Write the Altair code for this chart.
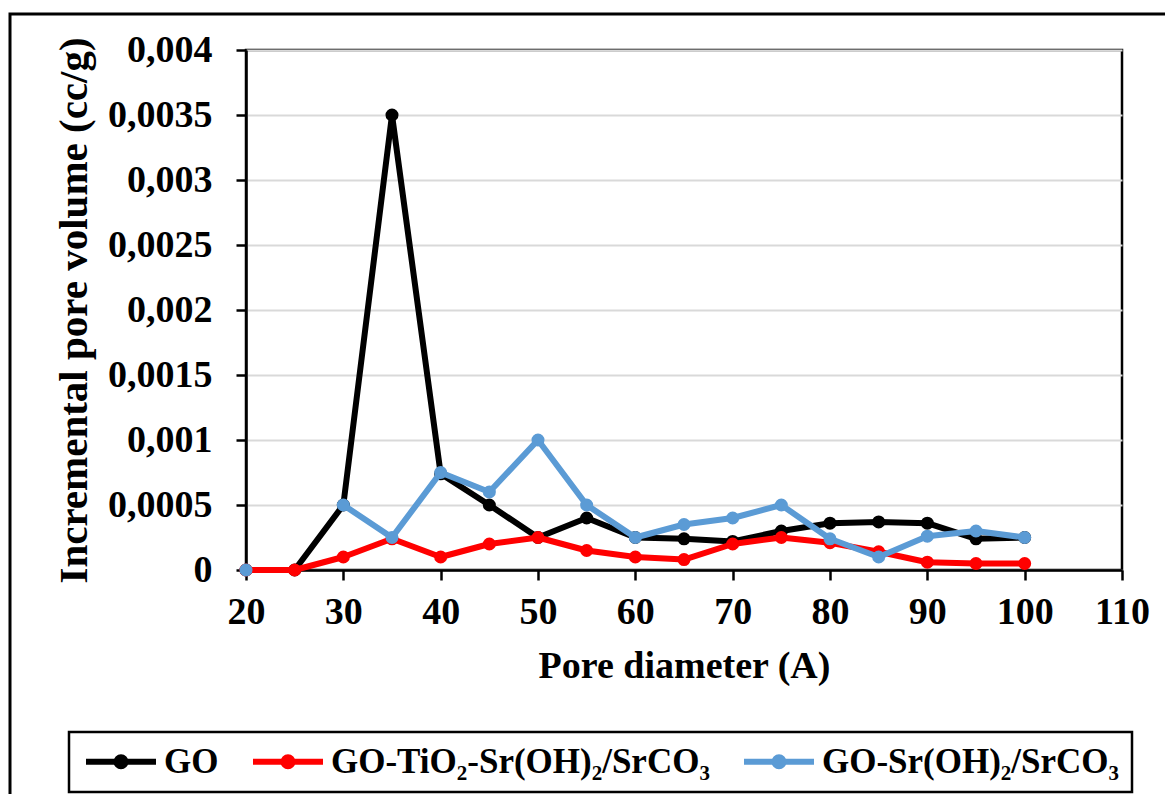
import altair as alt
import pandas as pd

pore_diameter = [20, 25, 30, 35, 40, 45, 50, 55, 60, 65, 70, 75, 80, 85, 90, 95, 100]
go = [0, 0, 0.0005, 0.0035, 0.00074, 0.0005, 0.00025, 0.0004, 0.00025, 0.00024,
      0.00022, 0.0003, 0.00036, 0.00037, 0.00036, 0.00024, 0.00025]
go_tio2 = [0, 0, 0.0001, 0.00024, 0.0001, 0.0002, 0.00025, 0.00015, 0.0001, 0.00008,
           0.0002, 0.00025, 0.00021, 0.00014, 0.00006, 0.00005, 0.00005]
go_sr = [0, None, 0.0005, 0.00025, 0.00075, 0.0006, 0.001, 0.0005, 0.00025, 0.00035,
         0.0004, 0.0005, 0.00024, 0.0001, 0.00026, 0.0003, 0.00025]

series_names = ["GO", "GO-TiO\u2082-Sr(OH)\u2082/SrCO\u2083", "GO-Sr(OH)\u2082/SrCO\u2083"]
series_colors = ["#000000", "#FF0000", "#5B9BD5"]
x_ticks = [20, 30, 40, 50, 60, 70, 80, 90, 100, 110]
y_ticks = [0, 0.0005, 0.001, 0.0015, 0.002, 0.0025, 0.003, 0.0035, 0.004]

rows = []
for name, vals in zip(series_names, [go, go_tio2, go_sr]):
    for xv, yv in zip(pore_diameter, vals):
        rows.append({"series": name, "x": xv, "y": yv})
df = pd.DataFrame(rows)

FONT = "Liberation Serif"

legend = alt.Legend(
    title=None,
    orient="none",
    legendX=-177,
    legendY=682,
    direction="horizontal",
    symbolType="M-1,0 L4.6,0 M1.44,0 A0.36,0.36 0 1,1 2.16,0 A0.36,0.36 0 1,1 1.44,0",
    symbolSize=625,
    symbolStrokeWidth=6,
    labelFont=FONT,
    labelFontWeight="bold",
    labelFontSize=35,
    labelColor="black",
    labelLimit=0,
    labelOffset=48,
    columnPadding=22,
    padding=12,
    strokeColor="black",
)

color = alt.Color(
    "series:N",
    scale=alt.Scale(domain=series_names, range=series_colors),
    legend=legend,
)

x_enc = alt.X(
    "x:Q",
    scale=alt.Scale(domain=[20, 110], nice=False, zero=False),
    axis=alt.Axis(
        title="Pore diameter (A)",
        values=x_ticks,
        grid=False,
        domainColor="black",
        domainWidth=2.5,
        tickColor="black",
        tickWidth=2.5,
        tickSize=10,
        labelFont=FONT,
        labelFontWeight="bold",
        labelFontSize=38,
        labelColor="black",
        labelPadding=13,
        labelFlush=False,
        titleFont=FONT,
        titleFontWeight="bold",
        titleFontSize=38,
        titleColor="black",
        titleX=438,
        titleY=96,
        titleBaseline="middle",
        titleAlign="center",
    ),
)

y_enc = alt.Y(
    "y:Q",
    scale=alt.Scale(domain=[0, 0.004], nice=False),
    axis=alt.Axis(
        title="Incremental pore volume (cc/g)",
        values=y_ticks,
        labelExpr="replace(format(datum.value, '~g'), '.', ',')",
        grid=True,
        gridColor="#d9d9d9",
        gridWidth=2,
        domainColor="black",
        domainWidth=2.5,
        tickColor="black",
        tickWidth=2.5,
        tickSize=10,
        labelFont=FONT,
        labelFontWeight="bold",
        labelFontSize=38,
        labelColor="black",
        labelPadding=24,
        labelFlush=False,
        titleFont=FONT,
        titleFontWeight="bold",
        titleFontSize=41,
        titleColor="black",
        titleAngle=-90,
        titleX=-172,
        titleY=260,
        titleBaseline="middle",
        titleAlign="center",
    ),
)

frame = alt.Chart(pd.DataFrame({"k": [0]})).mark_rect(
    filled=False, stroke="black", strokeWidth=3
).encode(
    x=alt.value(-236), x2=alt.value(950), y=alt.value(-36), y2=alt.value(800)
)

layers = [frame]
for name in series_names:
    base = alt.Chart(df).transform_filter(alt.datum.series == name)
    line = base.mark_line(
        strokeWidth=6, strokeJoin="round", strokeCap="round",
        invalid="break-paths-show-domains",
    ).encode(x=x_enc, y=y_enc, color=color)
    pts = base.mark_point(filled=True, size=170, opacity=1).encode(
        x=x_enc, y=y_enc, color=color
    )
    layers += [line, pts]

chart = alt.layer(*layers).properties(
    width=876,
    height=520,
    autosize=alt.AutoSizeParams(type="none"),
    padding={"left": 238, "top": 42, "right": 43, "bottom": 224},
).configure_view(
    stroke="black", strokeWidth=2.5
).configure_legend(
    strokeWidth=2.5
)

chart.save("out.html", embed_options={"renderer": "svg", "actions": False})
